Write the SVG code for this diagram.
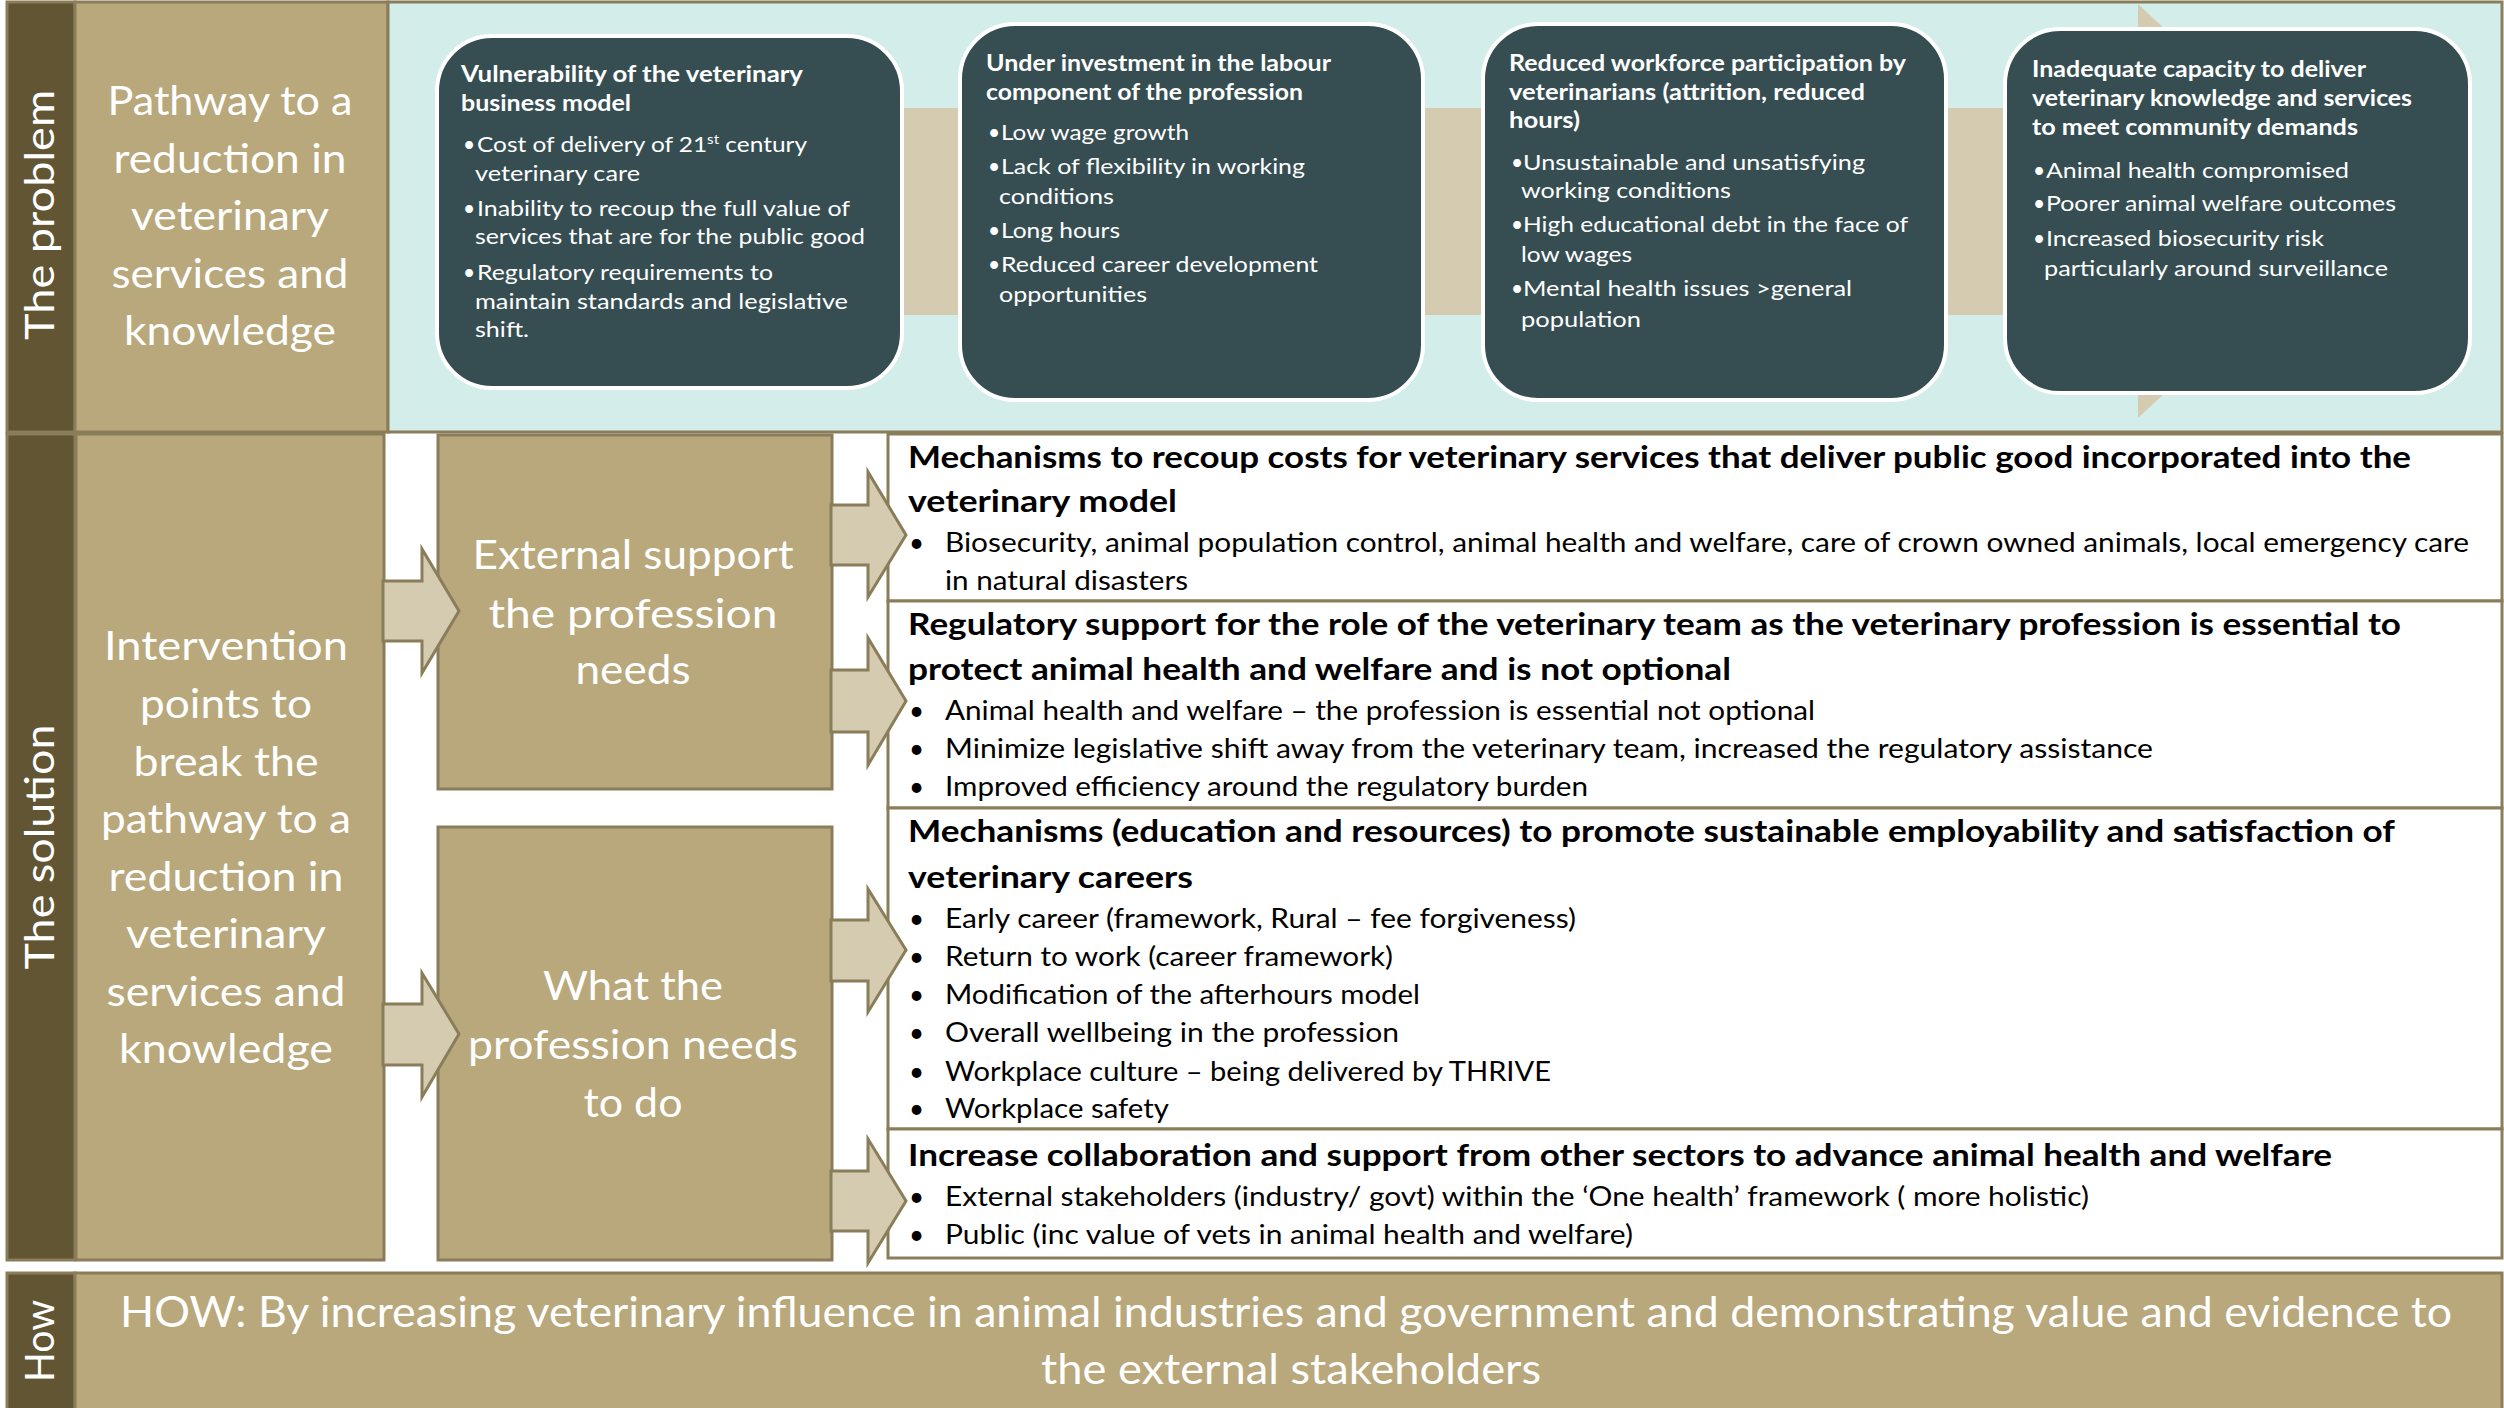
<svg xmlns="http://www.w3.org/2000/svg" width="2504" height="1408" viewBox="0 0 2504 1408">
<style>
.ln{stroke:#8A7D5A;stroke-width:3}
.dark{fill:#625534}
.tan{fill:#B8A87B}
.lt{fill:#D3EDEA}
.wh{fill:#FFFFFF}
.pbox{fill:#364E52;stroke:#FFFFFF;stroke-width:4}
.arr{fill:#D4CBB0;stroke:#8A7D5A;stroke-width:3;stroke-linejoin:miter}
.bg{fill:#D4CBB0}
text{font-family:Lato,"Liberation Sans",sans-serif}
.side{fill:#FFFFFF;font-size:40px;text-anchor:middle}
.big{fill:#FFFFFF;font-size:40px;text-anchor:middle}
.how{fill:#FFFFFF;font-size:42px;text-anchor:middle}
.ph{fill:#FFFFFF;font-size:22px;font-weight:bold}
.pb{fill:#FFFFFF;font-size:21px}
.th{fill:#000000;font-size:31px;font-weight:bold}
.tb{fill:#000000;font-size:26px}
</style>

<!-- ===== The problem row ===== -->
<g id="problem-label">
  <rect class="dark ln" x="7" y="2" width="68" height="430"/>
  <text class="side" transform="translate(54,215) rotate(-90)" textLength="250" lengthAdjust="spacingAndGlyphs">The problem</text>
</g>
<g id="pathway">
  <rect class="tan ln" x="75" y="2" width="313" height="430"/>
  <text class="big" x="230" y="115" textLength="245" lengthAdjust="spacingAndGlyphs">Pathway to a</text>
  <text class="big" x="230" y="173" textLength="233" lengthAdjust="spacingAndGlyphs">reduction in</text>
  <text class="big" x="230" y="230" textLength="198" lengthAdjust="spacingAndGlyphs">veterinary</text>
  <text class="big" x="230" y="288" textLength="237" lengthAdjust="spacingAndGlyphs">services and</text>
  <text class="big" x="230" y="345" textLength="212" lengthAdjust="spacingAndGlyphs">knowledge</text>
</g>
<g id="problem-panel">
  <rect class="lt ln" x="388" y="2" width="2114" height="430"/>
</g>

<g id="connectors">
  <path id="bg-arrow" class="bg" d="M440 108 H2138 V4 L2360 211 L2138 418 V315 H440 Z"/>
</g>

<g id="box1">
  <rect class="pbox" x="437" y="36" width="465" height="352" rx="55" ry="55"/>
  <text class="ph" x="461" y="82" textLength="342" lengthAdjust="spacingAndGlyphs">Vulnerability  of the veterinary</text>
  <text class="ph" x="461" y="111" textLength="170" lengthAdjust="spacingAndGlyphs">business model</text>
  <text class="pb" x="463" y="152">•</text>
  <text class="pb" x="477" y="152" textLength="330" lengthAdjust="spacingAndGlyphs">Cost of delivery of 21<tspan font-size="13" dy="-8">st</tspan><tspan dy="8"> century</tspan></text>
  <text class="pb" x="475" y="181" textLength="165" lengthAdjust="spacingAndGlyphs">veterinary care</text>
  <text class="pb" x="463" y="216">•</text>
  <text class="pb" x="477" y="216" textLength="373" lengthAdjust="spacingAndGlyphs">Inability to recoup the full value of</text>
  <text class="pb" x="475" y="244" textLength="390" lengthAdjust="spacingAndGlyphs">services that are for the public good</text>
  <text class="pb" x="463" y="280">•</text>
  <text class="pb" x="477" y="280" textLength="296" lengthAdjust="spacingAndGlyphs">Regulatory requirements  to</text>
  <text class="pb" x="475" y="309" textLength="373" lengthAdjust="spacingAndGlyphs">maintain standards and legislative</text>
  <text class="pb" x="475" y="337" textLength="54" lengthAdjust="spacingAndGlyphs">shift.</text>
</g>

<g id="box2">
  <rect class="pbox" x="960" y="24" width="463" height="376" rx="55" ry="55"/>
  <text class="ph" x="986" y="71" textLength="345" lengthAdjust="spacingAndGlyphs">Under investment in the labour</text>
  <text class="ph" x="986" y="100" textLength="317" lengthAdjust="spacingAndGlyphs">component  of the profession</text>
  <text class="pb" x="988" y="140">•</text>
  <text class="pb" x="1001" y="140" textLength="188" lengthAdjust="spacingAndGlyphs">Low wage growth</text>
  <text class="pb" x="988" y="174">•</text>
  <text class="pb" x="1001" y="174" textLength="304" lengthAdjust="spacingAndGlyphs">Lack of flexibility in working</text>
  <text class="pb" x="999" y="204" textLength="115" lengthAdjust="spacingAndGlyphs">conditions</text>
  <text class="pb" x="988" y="238">•</text>
  <text class="pb" x="1001" y="238" textLength="119" lengthAdjust="spacingAndGlyphs">Long hours</text>
  <text class="pb" x="988" y="272">•</text>
  <text class="pb" x="1001" y="272" textLength="317" lengthAdjust="spacingAndGlyphs">Reduced career development</text>
  <text class="pb" x="999" y="302" textLength="148" lengthAdjust="spacingAndGlyphs">opportunities</text>
</g>

<g id="box3">
  <rect class="pbox" x="1483" y="24" width="463" height="376" rx="55" ry="55"/>
  <text class="ph" x="1509" y="71" textLength="397" lengthAdjust="spacingAndGlyphs">Reduced workforce participation  by</text>
  <text class="ph" x="1509" y="100" textLength="356" lengthAdjust="spacingAndGlyphs">veterinarians (attrition, reduced</text>
  <text class="ph" x="1509" y="128" textLength="71" lengthAdjust="spacingAndGlyphs">hours)</text>
  <text class="pb" x="1511" y="170">•</text>
  <text class="pb" x="1523" y="170" textLength="342" lengthAdjust="spacingAndGlyphs">Unsustainable and unsatisfying</text>
  <text class="pb" x="1521" y="198" textLength="210" lengthAdjust="spacingAndGlyphs">working conditions</text>
  <text class="pb" x="1511" y="232">•</text>
  <text class="pb" x="1523" y="232" textLength="385" lengthAdjust="spacingAndGlyphs">High educational debt in the face of</text>
  <text class="pb" x="1521" y="262" textLength="111" lengthAdjust="spacingAndGlyphs">low wages</text>
  <text class="pb" x="1511" y="296">•</text>
  <text class="pb" x="1523" y="296" textLength="329" lengthAdjust="spacingAndGlyphs">Mental health issues &gt;general</text>
  <text class="pb" x="1521" y="327" textLength="120" lengthAdjust="spacingAndGlyphs">population</text>
</g>

<g id="box4">
  <rect class="pbox" x="2005" y="29" width="465" height="364" rx="55" ry="55"/>
  <text class="ph" x="2032" y="77" textLength="334" lengthAdjust="spacingAndGlyphs">Inadequate capacity  to deliver</text>
  <text class="ph" x="2032" y="106" textLength="380" lengthAdjust="spacingAndGlyphs">veterinary knowledge and services</text>
  <text class="ph" x="2032" y="135" textLength="326" lengthAdjust="spacingAndGlyphs">to meet community demands</text>
  <text class="pb" x="2033" y="178">•</text>
  <text class="pb" x="2046" y="178" textLength="303" lengthAdjust="spacingAndGlyphs">Animal health compromised</text>
  <text class="pb" x="2033" y="211">•</text>
  <text class="pb" x="2046" y="211" textLength="350" lengthAdjust="spacingAndGlyphs">Poorer animal welfare outcomes</text>
  <text class="pb" x="2033" y="246">•</text>
  <text class="pb" x="2046" y="246" textLength="278" lengthAdjust="spacingAndGlyphs">Increased biosecurity risk</text>
  <text class="pb" x="2044" y="276" textLength="344" lengthAdjust="spacingAndGlyphs">particularly around surveillance</text>
</g>

<!-- ===== The solution row ===== -->
<g id="solution-label">
  <rect class="dark ln" x="7" y="434" width="68" height="826"/>
  <text class="side" transform="translate(54,847) rotate(-90)" textLength="245" lengthAdjust="spacingAndGlyphs">The solution</text>
</g>
<g id="intervention">
  <rect class="tan ln" x="76" y="434" width="308" height="826"/>
  <text class="big" x="226" y="660" textLength="244" lengthAdjust="spacingAndGlyphs">Intervention</text>
  <text class="big" x="226" y="718" textLength="172" lengthAdjust="spacingAndGlyphs">points to</text>
  <text class="big" x="226" y="776" textLength="185" lengthAdjust="spacingAndGlyphs">break the</text>
  <text class="big" x="226" y="833" textLength="250" lengthAdjust="spacingAndGlyphs">pathway to a</text>
  <text class="big" x="226" y="891" textLength="235" lengthAdjust="spacingAndGlyphs">reduction in</text>
  <text class="big" x="226" y="948" textLength="200" lengthAdjust="spacingAndGlyphs">veterinary</text>
  <text class="big" x="226" y="1006" textLength="239" lengthAdjust="spacingAndGlyphs">services and</text>
  <text class="big" x="226" y="1063" textLength="214" lengthAdjust="spacingAndGlyphs">knowledge</text>
</g>
<g id="external">
  <rect class="tan ln" x="438" y="435" width="394" height="354"/>
  <text class="big" x="633" y="569" textLength="321" lengthAdjust="spacingAndGlyphs">External support</text>
  <text class="big" x="633" y="628" textLength="289" lengthAdjust="spacingAndGlyphs">the  profession</text>
  <text class="big" x="633" y="684" textLength="115" lengthAdjust="spacingAndGlyphs">needs</text>
</g>
<g id="whatdo">
  <rect class="tan ln" x="438" y="827" width="394" height="433"/>
  <text class="big" x="633" y="1000" textLength="180" lengthAdjust="spacingAndGlyphs">What the</text>
  <text class="big" x="633" y="1059" textLength="330" lengthAdjust="spacingAndGlyphs">profession needs</text>
  <text class="big" x="633" y="1117" textLength="99" lengthAdjust="spacingAndGlyphs">to do</text>
</g>

<g id="t1">
  <rect class="wh ln" x="888" y="434" width="1614" height="167"/>
  <text class="th" x="908" y="468" textLength="1503" lengthAdjust="spacingAndGlyphs">Mechanisms to recoup costs for veterinary services that deliver public good incorporated into the</text>
  <text class="th" x="908" y="512" textLength="269" lengthAdjust="spacingAndGlyphs">veterinary model</text>
  <text class="tb" x="909" y="552">•</text>
  <text class="tb" x="945" y="552" textLength="1524" lengthAdjust="spacingAndGlyphs">Biosecurity, animal population control, animal health and welfare, care of crown owned animals, local emergency care</text>
  <text class="tb" x="945" y="590" textLength="243" lengthAdjust="spacingAndGlyphs">in natural disasters</text>
</g>
<g id="t2">
  <rect class="wh ln" x="888" y="601" width="1614" height="207"/>
  <text class="th" x="908" y="635" textLength="1493" lengthAdjust="spacingAndGlyphs">Regulatory support for the role of the veterinary team as the veterinary profession is essential to</text>
  <text class="th" x="908" y="680" textLength="823" lengthAdjust="spacingAndGlyphs">protect animal health and welfare and is not optional</text>
  <text class="tb" x="909" y="720">•</text>
  <text class="tb" x="945" y="720" textLength="870" lengthAdjust="spacingAndGlyphs">Animal health and welfare – the profession is essential not optional</text>
  <text class="tb" x="909" y="758">•</text>
  <text class="tb" x="945" y="758" textLength="1208" lengthAdjust="spacingAndGlyphs">Minimize legislative shift away from the veterinary team, increased the regulatory  assistance</text>
  <text class="tb" x="909" y="796">•</text>
  <text class="tb" x="945" y="796" textLength="643" lengthAdjust="spacingAndGlyphs">Improved  efficiency around the  regulatory burden</text>
</g>
<g id="t3">
  <rect class="wh ln" x="888" y="808" width="1614" height="321"/>
  <text class="th" x="908" y="842" textLength="1487" lengthAdjust="spacingAndGlyphs">Mechanisms (education and resources) to promote sustainable employability and satisfaction of</text>
  <text class="th" x="908" y="888" textLength="285" lengthAdjust="spacingAndGlyphs">veterinary careers</text>
  <text class="tb" x="909" y="928">•</text>
  <text class="tb" x="945" y="928" textLength="631" lengthAdjust="spacingAndGlyphs">Early career (framework,  Rural – fee forgiveness)</text>
  <text class="tb" x="909" y="966">•</text>
  <text class="tb" x="945" y="966" textLength="448" lengthAdjust="spacingAndGlyphs">Return to work (career framework)</text>
  <text class="tb" x="909" y="1004">•</text>
  <text class="tb" x="945" y="1004" textLength="475" lengthAdjust="spacingAndGlyphs">Modification of the  afterhours model</text>
  <text class="tb" x="909" y="1042">•</text>
  <text class="tb" x="945" y="1042" textLength="454" lengthAdjust="spacingAndGlyphs">Overall  wellbeing in the profession</text>
  <text class="tb" x="909" y="1081">•</text>
  <text class="tb" x="945" y="1081" textLength="606" lengthAdjust="spacingAndGlyphs">Workplace culture – being delivered by THRIVE</text>
  <text class="tb" x="909" y="1118">•</text>
  <text class="tb" x="945" y="1118" textLength="224" lengthAdjust="spacingAndGlyphs">Workplace safety</text>
</g>
<g id="t4">
  <rect class="wh ln" x="888" y="1129" width="1614" height="129"/>
  <text class="th" x="908" y="1166" textLength="1424" lengthAdjust="spacingAndGlyphs">Increase collaboration and support from other sectors to advance animal health and welfare</text>
  <text class="tb" x="909" y="1206">•</text>
  <text class="tb" x="945" y="1206" textLength="1144" lengthAdjust="spacingAndGlyphs">External stakeholders (industry/ govt) within the ‘One health’ framework ( more holistic)</text>
  <text class="tb" x="909" y="1244">•</text>
  <text class="tb" x="945" y="1244" textLength="688" lengthAdjust="spacingAndGlyphs">Public (inc value of vets in animal health and welfare)</text>
</g>

<g id="solution-connectors">
  <path class="arr" d="M383 581 H422 V549 L459 611 L422 673 V641 H383 Z"/>
  <path class="arr" d="M383 1004 H422 V973 L459 1034 L422 1097 V1065 H383 Z"/>
  <path class="arr" d="M831 505 H868 V472 L906 535 L868 597 V565 H831 Z"/>
  <path class="arr" d="M831 670 H868 V638 L906 701 L868 765 V732 H831 Z"/>
  <path class="arr" d="M831 920 H868 V889 L906 950 L868 1012 V981 H831 Z"/>
  <path class="arr" d="M831 1171 H868 V1139 L906 1201 L868 1263 V1231 H831 Z"/>
</g>

<!-- ===== How row ===== -->
<g id="how-label">
  <rect class="dark ln" x="7" y="1273" width="68" height="137"/>
  <text class="side" transform="translate(54,1341) rotate(-90)" textLength="82" lengthAdjust="spacingAndGlyphs">How</text>
</g>
<g id="how">
  <rect class="tan ln" x="75" y="1273" width="2427" height="137"/>
  <text class="how" x="1286" y="1327" textLength="2332" lengthAdjust="spacingAndGlyphs">HOW: By increasing veterinary influence in animal industries and government and demonstrating value and evidence  to</text>
  <text class="how" x="1291" y="1384" textLength="500" lengthAdjust="spacingAndGlyphs">the external stakeholders</text>
</g>
</svg>
